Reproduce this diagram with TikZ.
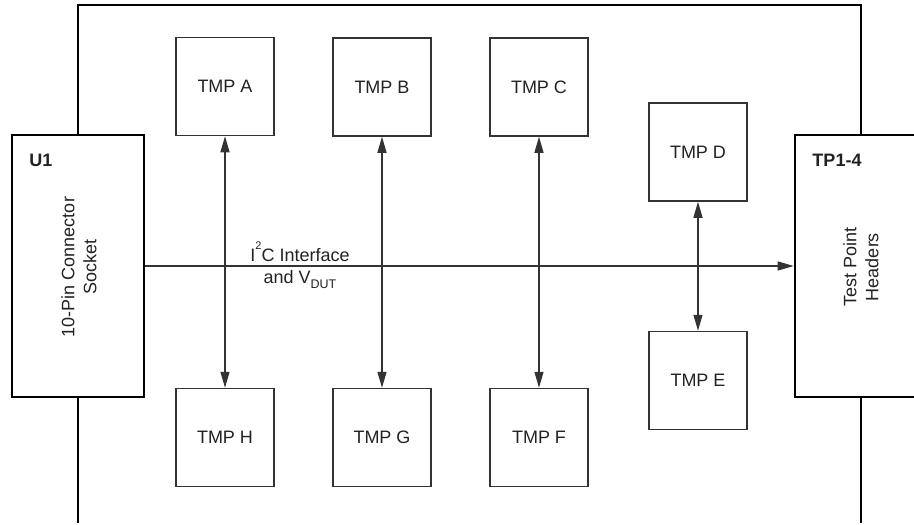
\documentclass[tikz,border=0pt]{standalone}
\usepackage{fontspec}
\setmainfont{Liberation Sans}
\usetikzlibrary{arrows.meta}
\definecolor{boxgray}{HTML}{333333}
\definecolor{txtgray}{HTML}{222222}
\newcommand{\supsc}[1]{\raisebox{12pt}{\fontsize{11}{11}\selectfont #1}}
\newcommand{\subsc}[1]{\raisebox{-5pt}{\fontsize{12.5}{12.5}\selectfont #1}}
\tikzset{
  board/.style={draw=black, line width=2.6pt},
  conbox/.style={draw=black, line width=2.6pt, fill=white, minimum width=132pt, minimum height=262pt, inner sep=0pt},
  tmpbox/.style={draw=boxgray, line width=1.5pt, fill=white, minimum width=98pt, minimum height=98pt, inner sep=0pt, text=txtgray, font=\fontsize{18}{22}\selectfont},
  lbl/.style={inner sep=0pt, text=txtgray, font=\fontsize{18}{22}\selectfont},
  boldlbl/.style={inner sep=0pt, text=txtgray, font=\fontsize{18}{22}\selectfont\bfseries},
  sig/.style={draw=boxgray, line width=1.3pt},
  tip/.tip={Triangle[length=16pt,width=9pt]}
}
\begin{document}
\begin{tikzpicture}[x=1pt,y=-1pt]
\useasboundingbox (0,0) rectangle (914,525);
% board outline
\draw[board] (78,523) -- (78,5) -- (861,5) -- (861,523);
% connectors
\node[conbox] (U1) at (78,266) {};
\node[conbox] (TP) at (861,266) {};
\node[boldlbl, anchor=center] (u1lbl) at (41,160) {U1};
\node[boldlbl, anchor=center] (tplbl) at (837,160) {TP1-4};
\node[lbl, rotate=90, align=center] (u1txt) at (79,267) {10-Pin Connector\\Socket};
\node[lbl, rotate=90, align=center] (tptxt) at (861,267) {Test Point\\Headers};
% sensors
\node[tmpbox] (A) at (225,86.5) {TMP A};
\node[tmpbox] (B) at (382,87) {TMP B};
\node[tmpbox] (C) at (539,87) {TMP C};
\node[tmpbox] (D) at (698,152) {TMP D};
\node[tmpbox] (E) at (698,380.5) {TMP E};
\node[tmpbox] (H) at (225,437.5) {TMP H};
\node[tmpbox] (G) at (382,437.5) {TMP G};
\node[tmpbox] (F) at (539,437.5) {TMP F};
% bus
\draw[sig, -tip] (U1.east) -- (TP.west);
\draw[sig, tip-tip] (A.south) -- (H.north);
\draw[sig, tip-tip] (B.south) -- (G.north);
\draw[sig, tip-tip] (C.south) -- (F.north);
\draw[sig, tip-tip] (D.south) -- (E.north);
% bus label
\node[lbl, anchor=base] (buslbl1) at (300,261) {I\supsc{2}C Interface};
\node[lbl, anchor=base] (buslbl2) at (300,283) {and V\subsc{DUT}};
\end{tikzpicture}
\end{document}
